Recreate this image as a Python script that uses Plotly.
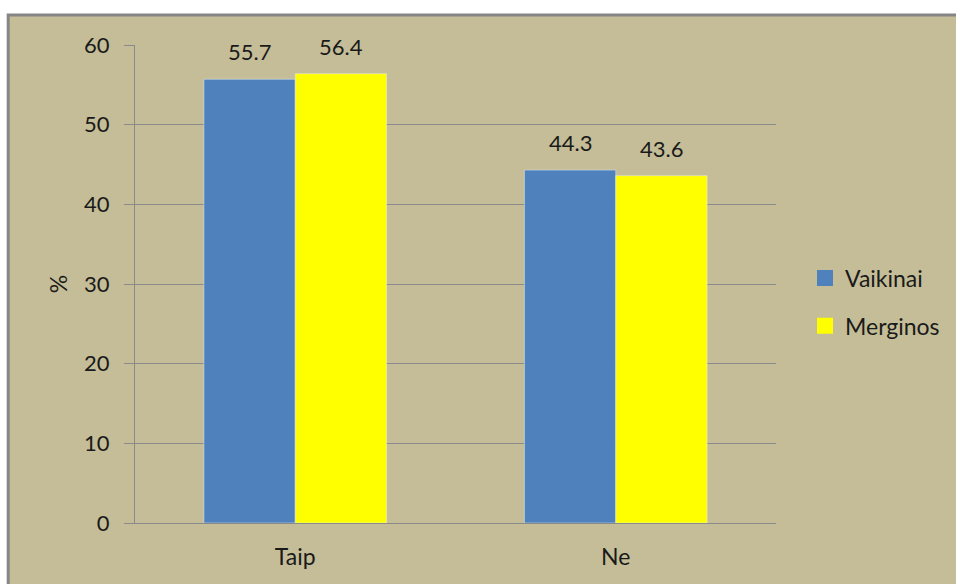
import plotly.graph_objects as go

categories = ["Taip", "Ne"]
vaikinai = [55.7, 44.3]
merginos = [56.4, 43.6]
y_ticks = [0, 10, 20, 30, 40, 50, 60]
series = [("Vaikinai", vaikinai, "#4F81BD"), ("Merginos", merginos, "#FFFF00")]

W, H = 956, 584
L, R, T, B = 135, 179, 45, 61
pw, ph = W - L - R, H - T - B
BARGAP = 0.43

bg = "#C4BD97"
grid = "#8A8A8A"
font = "Lato, Liberation Sans, sans-serif"
txt = "#1A1A1A"

fig = go.Figure()
for i, (name, vals, col) in enumerate(series):
    fig.add_trace(go.Bar(name=name, x=categories, y=vals, marker_color=col,
                         showlegend=False, cliponaxis=False))
    fig.add_trace(go.Scatter(name=name, x=[None], y=[None], mode="markers",
                             marker=dict(symbol="square", size=16, color=col),
                             legendgroup=name, showlegend=True))

# data labels above each bar
bar_px = pw / len(categories) * (1 - BARGAP) / len(series)
annotations = []
for i, (name, vals, col) in enumerate(series):
    shift = (i - (len(series) - 1) / 2) * bar_px
    for c, v in zip(categories, vals):
        annotations.append(dict(x=c, y=v, xref="x", yref="y", text=f"{v:.1f}",
                                showarrow=False, xshift=shift, yshift=12,
                                yanchor="bottom", xanchor="center",
                                font=dict(size=22, color=txt, family=font)))

fig.update_layout(
    width=W, height=H,
    margin=dict(l=L, r=R, t=T, b=B, pad=0),
    paper_bgcolor="white", plot_bgcolor="rgba(0,0,0,0)",
    font=dict(family=font, color=txt, size=22),
    barmode="group", bargap=BARGAP, bargroupgap=0,
    showlegend=True,
    legend=dict(x=(805 - L) / pw, y=(H - B - 302) / ph, xanchor="left", yanchor="middle",
                font=dict(size=23, family=font, color=txt), bgcolor="rgba(0,0,0,0)",
                traceorder="grouped", tracegroupgap=15, itemwidth=30),
    annotations=annotations,
    shapes=[dict(type="rect", xref="paper", yref="paper",
                 x0=(8 - L) / pw, x1=(W + 20 - L) / pw,
                 y0=(H - B - H - 20) / ph, y1=(H - B - 15) / ph,
                 fillcolor=bg, line=dict(color="#868686", width=3), layer="below")],
)
fig.update_yaxes(range=[0, 60], tickvals=y_ticks, showgrid=True, gridcolor=grid, gridwidth=1,
                 showline=True, linecolor=grid, linewidth=1, ticks="outside", ticklen=10,
                 tickcolor=grid, zeroline=False, ticklabelstandoff=10,
                 tickfont=dict(size=22, color=txt, family=font),
                 title=dict(text="%", font=dict(size=23, color=txt, family=font), standoff=10))
fig.update_xaxes(showline=True, linecolor=grid, linewidth=1, ticks="", showgrid=False,
                 ticklabelstandoff=13,
                 tickfont=dict(size=23, color=txt, family=font))

fig.write_html("out.html")
